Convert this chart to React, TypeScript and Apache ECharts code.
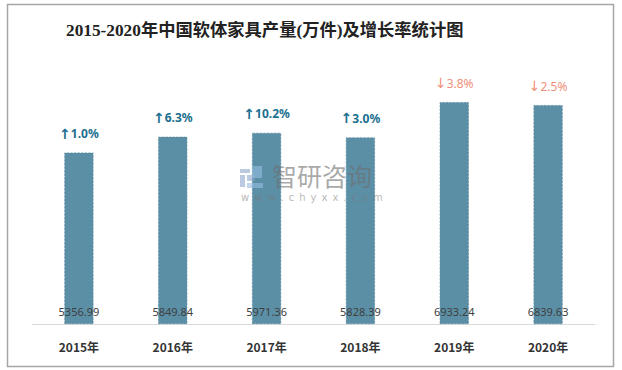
import React, { useEffect, useRef } from "react";
import * as echarts from "echarts";

const categories = ["2015年", "2016年", "2017年", "2018年", "2019年", "2020年"];
const production = [5356.99, 5849.84, 5971.36, 5828.39, 6933.24, 6839.63];
const growth = ["1.0%", "6.3%", "10.2%", "3.0%", "3.8%", "2.5%"];
const growthUp = [true, true, true, true, false, false];

export default function App() {
  const ref = useRef<HTMLDivElement>(null);
  useEffect(() => {
    if (!ref.current) return;
    const chart = echarts.init(ref.current, null, { renderer: "svg" });
    const cjk = "'Noto Sans CJK SC', 'Noto Sans', sans-serif";
    const wmFill = "rgba(130,160,200,0.55)";
    const wmFill2 = "rgba(150,190,225,0.6)";
    chart.setOption({
      animation: false,
      backgroundColor: "#ffffff",
      title: {
        text: "2015-2020年中国软体家具产量(万件)及增长率统计图",
        left: 61,
        top: 17,
        textStyle: {
          fontFamily: "'Liberation Serif', 'Noto Sans CJK SC', serif",
          fontSize: 17.3,
          fontWeight: "bold",
          color: "#222222",
        },
      },
      grid: { left: 32, right: 27, top: 68, bottom: 46, containLabel: false },
      xAxis: {
        type: "category",
        data: categories,
        axisLine: { lineStyle: { color: "#d9d9d9", width: 1 } },
        axisTick: { show: false },
        axisLabel: {
          fontFamily: cjk,
          fontSize: 12,
          fontWeight: "bold",
          color: "#333333",
          margin: 16,
        },
      },
      yAxis: {
        type: "value",
        min: 0,
        max: 8000,
        show: false,
        splitLine: { show: false },
      },
      graphic: [
        {
          type: "rect",
          shape: { x: 7.5, y: 4.5, width: 606, height: 362 },
          style: { fill: "none", stroke: "#a6a6a6", lineWidth: 1.5 },
          silent: true,
          z: 100,
        },
        { type: "rect", z: 100, silent: true, shape: { x: 240, y: 169, width: 10, height: 4 }, style: { fill: wmFill } },
        { type: "rect", z: 100, silent: true, shape: { x: 240, y: 175, width: 5, height: 12 }, style: { fill: wmFill } },
        { type: "rect", z: 100, silent: true, shape: { x: 247, y: 175, width: 8, height: 6 }, style: { fill: wmFill } },
        { type: "rect", z: 100, silent: true, shape: { x: 252, y: 166, width: 10, height: 12 }, style: { fill: wmFill2 } },
        { type: "rect", z: 100, silent: true, shape: { x: 247, y: 183, width: 16, height: 5 }, style: { fill: wmFill2 } },
        {
          type: "text",
          z: 100,
          silent: true,
          x: 272,
          y: 162,
          style: {
            text: "智研咨询",
            fontFamily: cjk,
            fontSize: 25,
            fill: "rgba(110,110,110,0.6)",
          },
        },
        {
          type: "text",
          z: 100,
          silent: true,
          x: 241,
          y: 192,
          style: {
            text: "w\u2002w\u2002w\u2002.\u2002c\u2002h\u2002y\u2002x\u2002x\u2002.\u2002c\u2002o\u2002m",
            fontFamily: "'DejaVu Sans', sans-serif",
            fontSize: 10,
            fill: "rgba(120,120,120,0.55)",
          },
        },
      ],
      series: [
        {
          type: "bar",
          data: production,
          barWidth: 29,
          itemStyle: {
            color: "#5b8fa6",
            borderColor: "#4e8299",
            borderWidth: 0.6,
            borderType: "dashed",
          },
          label: {
            show: true,
            position: "insideBottom",
            distance: 7,
            fontFamily: "'Noto Sans', sans-serif",
            fontSize: 11,
            color: "#404040",
            formatter: (p: any) => production[p.dataIndex].toFixed(2),
          },
          z: 2,
        },
        {
          type: "bar",
          data: production.map((v, i) => ({
            value: v,
            label: {
              formatter: growthUp[i] ? "{ua|↑}{u|" + growth[i] + "}" : "{da|↓}{d|" + growth[i] + "}",
            },
          })),
          barWidth: 29,
          barGap: "-100%",
          itemStyle: { color: "transparent" },
          label: {
            show: true,
            position: "top",
            distance: 12,
            rich: {
              ua: { fontFamily: "'DejaVu Sans', sans-serif", fontSize: 14, fontWeight: "bold", color: "#1b6f8f" },
              u: { fontFamily: "'Noto Sans', sans-serif", fontSize: 12, fontWeight: "bold", color: "#1b6f8f" },
              da: { fontFamily: "'DejaVu Sans', sans-serif", fontSize: 14, color: "#f0907a" },
              d: { fontFamily: "'Noto Sans', sans-serif", fontSize: 12, color: "#f0907a" },
            },
          },
          z: 3,
        },
      ],
    });
    return () => chart.dispose();
  }, []);
  return (
    <div
      ref={ref}
      style={{ position: "fixed", left: 0, top: 0, width: 622, height: 370 }}
    />
  );
}
